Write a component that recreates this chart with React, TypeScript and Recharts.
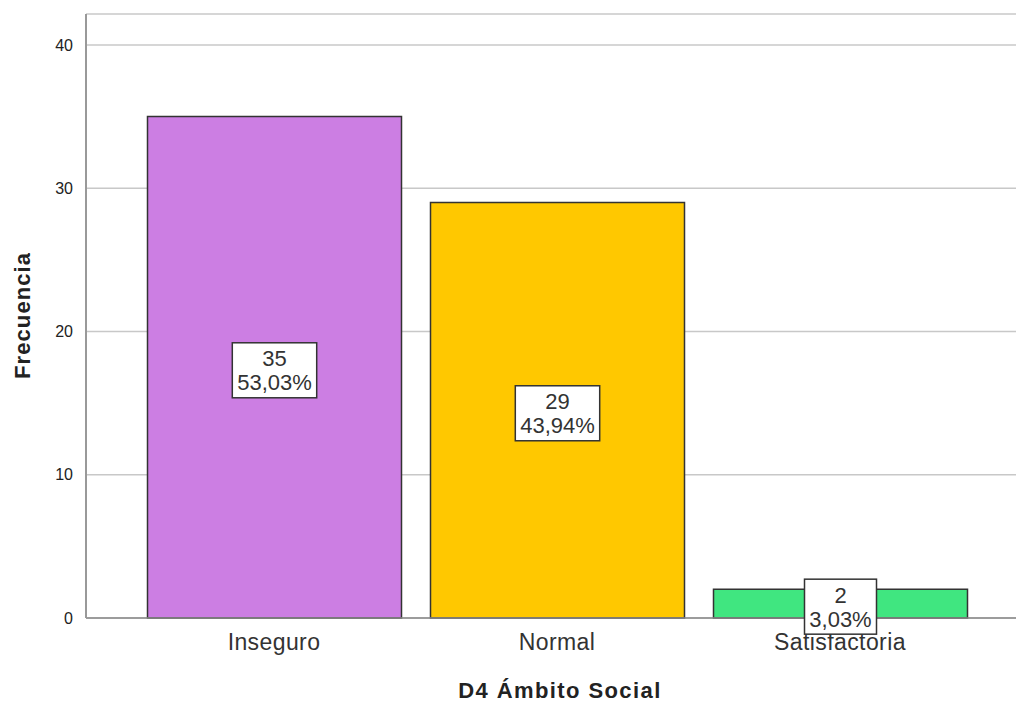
import React from "react";
import { BarChart, Bar, XAxis, YAxis, CartesianGrid, Cell, LabelList } from "recharts";

const categories = ["Inseguro", "Normal", "Satisfactoria"];
const frequencies = [35, 29, 2];
const percents = ["53,03%", "43,94%", "3,03%"];
const barColors = ["#CC7EE3", "#FFC800", "#40E680"];
const yTicks = [0, 10, 20, 30, 40];

const chartData = categories.map((name, i) => ({
  name,
  value: frequencies[i],
  pct: percents[i],
}));

const FONT = "'Liberation Sans', Arial, sans-serif";

function BoxLabel(props: any) {
  const { x, y, width, height, index } = props;
  const cx = x + width / 2;
  const cy = y + height / 2 + 3;
  const line1 = String(frequencies[index]);
  const line2 = percents[index];
  const longest = Math.max(line1.length, line2.length);
  const boxW = longest * 12.4 + 10;
  const boxH = 55;
  return (
    <g>
      <rect
        x={cx - boxW / 2}
        y={cy - boxH / 2}
        width={boxW}
        height={boxH}
        fill="#ffffff"
        stroke="#333333"
        strokeWidth={1.5}
      />
      <text x={cx} y={cy - 4} textAnchor="middle" fontSize={22} fill="#333" fontFamily={FONT}>
        {line1}
      </text>
      <text x={cx} y={cy + 20} textAnchor="middle" fontSize={22} fill="#333" fontFamily={FONT}>
        {line2}
      </text>
    </g>
  );
}

export default function App() {
  return (
    <div style={{ position: "absolute", left: 0, top: 0, width: 1016, height: 702, background: "#fff" }}>
      <BarChart
        width={1016}
        height={702}
        data={chartData}
        margin={{ top: 14, right: 0, left: 0, bottom: 54 }}
        barSize={254}
      >
        <CartesianGrid vertical={false} stroke="#c8c8c8" strokeWidth={1.5} />
        <XAxis
          dataKey="name"
          padding={{ left: 46.5, right: 34.5 }}
          axisLine={{ stroke: "#888", strokeWidth: 1.5 }}
          tickLine={false}
          tick={{ fontSize: 23, fill: "#333", fontFamily: FONT, letterSpacing: 0.4 }}
          tickMargin={10}
          label={{
            value: "D4 Ámbito Social",
            position: "insideBottom",
            offset: -50,
            dx: 9,
            fontSize: 22,
            fontWeight: "bold",
            fill: "#222",
            fontFamily: FONT,
            letterSpacing: 1.4,
          }}
        />
        <YAxis
          width={86}
          domain={[0, 42.16]}
          ticks={yTicks}
          axisLine={{ stroke: "#999", strokeWidth: 2 }}
          tickLine={false}
          tick={{ fontSize: 16, fill: "#222", fontFamily: FONT }}
          tickMargin={7}
          label={{
            value: "Frecuencia",
            angle: -90,
            position: "insideLeft",
            offset: 22,
            dy: 63,
            fontSize: 22,
            fontWeight: "bold",
            fill: "#222",
            fontFamily: FONT,
            letterSpacing: 1.1,
          }}
        />
        <Bar dataKey="value" isAnimationActive={false} stroke="#333" strokeWidth={1.5}>
          {chartData.map((d, i) => (
            <Cell key={d.name} fill={barColors[i]} />
          ))}
          <LabelList dataKey="value" content={<BoxLabel />} />
        </Bar>
      </BarChart>
    </div>
  );
}
